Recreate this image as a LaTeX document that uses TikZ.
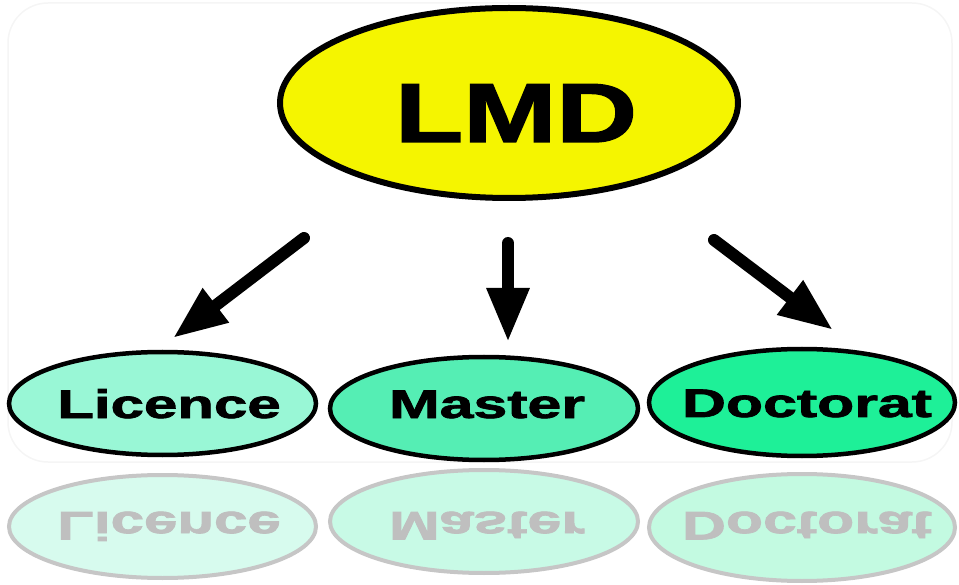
\documentclass[tikz,border=0pt]{standalone}
\usepackage{fontspec}
\setmainfont{Liberation Sans}
\newfontfamily\heavyfont[FakeBold=1.6]{Liberation Sans}
\usetikzlibrary{shapes.geometric,arrows.meta}
\definecolor{lmdyellow}{RGB}{245,245,0}
\definecolor{licfill}{RGB}{153,247,214}
\definecolor{masfill}{RGB}{85,238,180}
\definecolor{docfill}{RGB}{30,240,152}
\definecolor{refllic}{RGB}{215,251,238}
\definecolor{reflmas}{RGB}{200,250,230}
\definecolor{refldoc}{RGB}{195,250,225}
\begin{document}
\begin{tikzpicture}[x=1pt,y=-1pt,
  oval/.style={ellipse, draw=black, inner sep=0pt, line width=4.5pt},
  lbl/.style={anchor=base, inner sep=0pt, font=\heavyfont\bfseries\fontsize{40}{44}\selectfont},
  arr/.style={line width=12pt, -{Triangle[width=40pt,length=54pt]}, line cap=round},
  reflov/.style={ellipse, draw=gray!45, line width=4pt, inner sep=0pt},
  refltxt/.style={anchor=base, inner sep=0pt, text=gray!50, font=\heavyfont\bfseries\fontsize{40}{44}\selectfont}]
\useasboundingbox (0,0) rectangle (959,585);
% faint frame
\draw[gray!8, line width=1.5pt, rounded corners=40pt] (8,3) rectangle (952,462);

% reflections
\node[reflov, fill=refllic, minimum width=307pt, minimum height=103pt] (rlic) at (162.5,526.5) {};
\node[reflov, fill=reflmas, minimum width=308pt, minimum height=103pt] (rmas) at (484,521.5) {};
\node[reflov, fill=refldoc, minimum width=306pt, minimum height=107pt] (rdoc) at (802,527.5) {};
\node[refltxt] (rlictext) at (169,512) {\scalebox{1.5}[-1]{Licence}};
\node[refltxt] (rmastext) at (487,512) {\scalebox{1.52}[-1]{Master}};
\node[refltxt] (rdoctext) at (807,512) {\scalebox{1.52}[-1]{Doctorat}};

% top node
\node[oval, fill=lmdyellow, line width=6pt, minimum width=458pt, minimum height=190pt] (lmd) at (509,103) {};
\node[anchor=base, inner sep=0pt, font=\heavyfont\bfseries\fontsize{84}{90}\selectfont] (lmdtext) at (516,142) {\scalebox{1.33}[1]{LMD}};

% bottom nodes
\node[oval, fill=licfill, minimum width=307pt, minimum height=103pt] (lic) at (162.5,403.5) {};
\node[oval, fill=masfill, minimum width=308pt, minimum height=103pt] (mas) at (484,408.5) {};
\node[oval, fill=docfill, minimum width=306pt, minimum height=107pt] (doc) at (802,402.5) {};
\node[lbl] (lictext) at (169,418) {\scalebox{1.5}[1]{Licence}};
\node[lbl] (mastext) at (487,418) {\scalebox{1.52}[1]{Master}};
\node[lbl] (doctext) at (807,417) {\scalebox{1.52}[1]{Doctorat}};

% arrows
\coordinate (a1s) at (304,238);
\coordinate (a1e) at (173,338);
\coordinate (a2s) at (508,243);
\coordinate (a2e) at (508,342);
\coordinate (a3s) at (714,240);
\coordinate (a3e) at (833,330);
\draw[arr] (a1s) -- (a1e);
\draw[arr] (a2s) -- (a2e);
\draw[arr] (a3s) -- (a3e);
\end{tikzpicture}
\end{document}
